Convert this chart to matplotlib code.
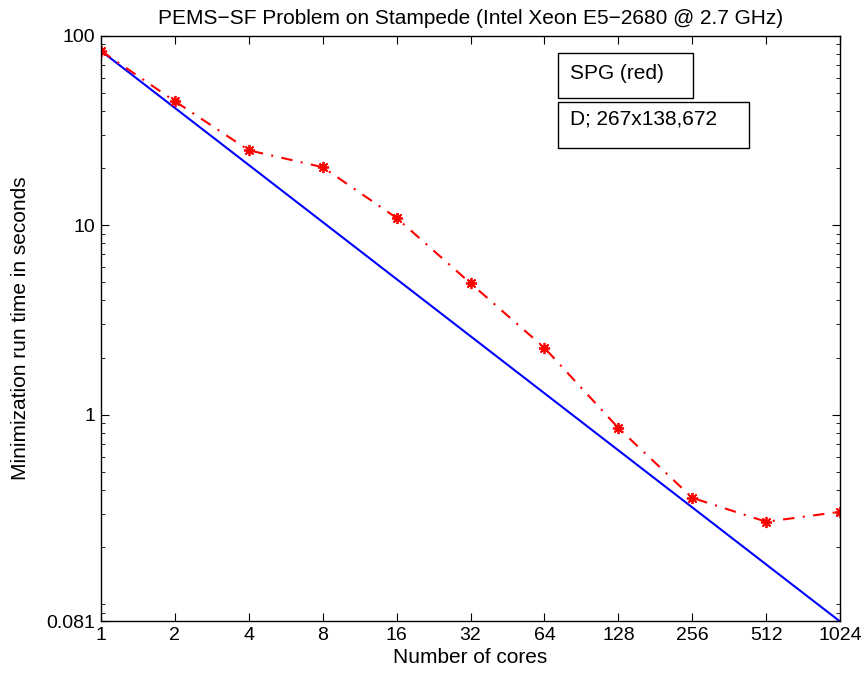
import numpy as np
import matplotlib
matplotlib.use("Agg")
import matplotlib.pyplot as plt
from matplotlib.patches import Rectangle
from matplotlib.ticker import FixedLocator, FixedFormatter, LogLocator, NullFormatter

plt.rcParams['font.family'] = ['Liberation Sans', 'DejaVu Sans']

cores = [1, 2, 4, 8, 16, 32, 64, 128, 256, 512, 1024]
spg_time = [83, 45, 24.8, 20.2, 10.9, 4.93, 2.25, 0.85, 0.364, 0.272, 0.307]
t_serial = 0.081 * 1024
ideal_time = [t_serial / c for c in cores]
y_ticks = [0.081, 1, 10, 100]
y_labels = ["0.081", "1", "10", "100"]

fig = plt.figure(figsize=(8.68, 6.74), dpi=100)
ax = fig.add_axes([0.1164, 0.0779, 0.8514, 0.8694])

ax.plot(cores, ideal_time, color='b', lw=1.5)
ax.plot(cores, spg_time, color='r', lw=1.5, ls='-.', dashes=(5.5, 4, 1, 4),
        marker=(8, 2, 0), markersize=8, mew=1.3)

ax.set_xscale('log', base=2)
ax.set_yscale('log')
ax.set_xlim(1, 1024)
ax.set_ylim(0.081, 100)

ax.xaxis.set_major_locator(FixedLocator(cores))
ax.xaxis.set_major_formatter(FixedFormatter([str(c) for c in cores]))
ax.xaxis.set_minor_locator(FixedLocator([]))
ax.yaxis.set_major_locator(FixedLocator(y_ticks))
ax.yaxis.set_major_formatter(FixedFormatter(y_labels))
ax.yaxis.set_minor_locator(LogLocator(base=10, subs=np.arange(1, 10)))
ax.yaxis.set_minor_formatter(NullFormatter())

ax.tick_params(which='both', direction='in', top=True, right=True, labelsize=14)
ax.tick_params(which='major', length=6, pad=4)
ax.tick_params(which='minor', length=3)
for s in ax.spines.values():
    s.set_linewidth(1.0)

ax.set_title("PEMS\u2212SF Problem on Stampede (Intel Xeon E5\u22122680 @ 2.7 GHz)",
             fontsize=15, pad=8)
ax.set_xlabel("Number of cores", fontsize=15)
ax.set_ylabel("Minimization run time in seconds", fontsize=15)
ax.xaxis.set_label_coords(0.5, -0.0606)
ax.xaxis.label.set_va('center')
ax.yaxis.set_label_coords(-0.1096, 0.5)
ax.yaxis.label.set_va('center')

# text boxes (axes fraction)
ax.add_patch(Rectangle((0.6184, 0.8933), 0.8011 - 0.6184, 0.970 - 0.8933,
                       transform=ax.transAxes, fill=False, ec='black', lw=1, clip_on=False))
ax.add_patch(Rectangle((0.6184, 0.808), 0.877 - 0.6184, 0.8865 - 0.808,
                       transform=ax.transAxes, fill=False, ec='black', lw=1, clip_on=False))
ax.text(0.6346, 0.936, "SPG (red)", transform=ax.transAxes, fontsize=15,
        va='center', ha='left')
ax.text(0.6346, 0.858, "D; 267x138,672", transform=ax.transAxes, fontsize=15,
        va='center', ha='left')

fig.savefig("out.png", dpi=100)
